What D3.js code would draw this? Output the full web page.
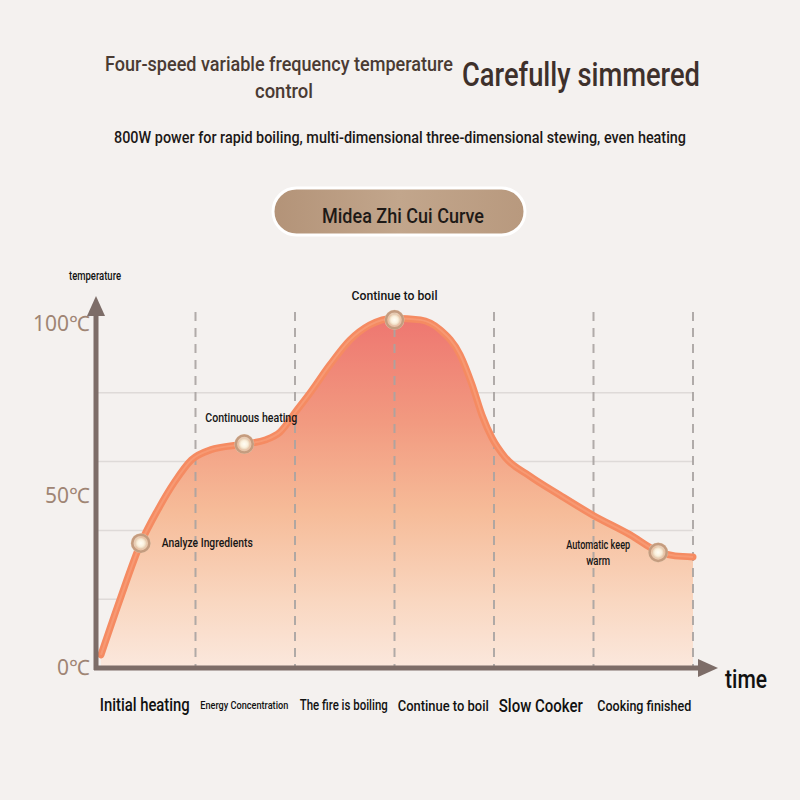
<!DOCTYPE html>
<html><head><meta charset="utf-8">
<script src="https://cdn.jsdelivr.net/npm/d3@7"></script>
<style>
html,body{margin:0;padding:0;background:#f4f1ef;}
svg{display:block;}
.cond{font-family:"Roboto","Noto Sans",sans-serif;font-weight:500;}
</style></head>
<body><svg id="c" width="800" height="800"></svg>
<script>
// ---- data ----
const stageLabels = ["Initial heating","Energy Concentration","The fire is boiling","Continue to boil","Slow Cooker","Cooking finished"];
const stageSizes = [18,11,14,15,19,15];
const stageWidths = [90,88,88,91,84,94];
const stageShift = [-1,-1,-1,-1,-3,1];
const yTicks = [0,50,100];
const gridTemps = [20,40,60,80];
const curveTime = [0.05,0.24,0.45,0.62,0.79,0.96,1.15,1.49,1.70,1.85,2.02,2.15,2.35,2.55,2.75,3.0,3.26,3.46,3.66,3.78,3.88,3.98,4.11,4.36,4.66,4.99,5.37,5.64,5.82,6.0];
const curveTemp = [3.8,19.8,36.3,45.9,54.1,60.5,63.4,65.1,66.3,68.6,75,79.9,88.1,95.3,99.7,101.7,101.2,98.3,91,82.3,73.5,66.9,61.3,55.8,50.3,44.5,38.7,34,32.6,32.3];
const markerTime = [0.45,1.49,3.0,5.65];
const markerTemp = [36.3,65.1,101.2,33.6];
const markerLabels = [["Analyze Ingredients"],["Continuous heating"],["Continue to boil"],["Automatic keep","warm"]];
const markerLabelWidths = [[91],[92],[86],[64,24]];

const svg = d3.select("#c");
const x = d3.scaleLinear().domain([0,6]).range([96,693]);
const y = d3.scaleLinear().domain([0,100]).range([668,324]);

const defs = svg.append("defs");
const ag = defs.append("linearGradient").attr("id","areaG").attr("gradientUnits","userSpaceOnUse")
  .attr("x1",0).attr("x2",0).attr("y1",y(102)).attr("y2",y(0));
[[0,"#ee7670"],[0.3,"#f29a80"],[0.55,"#f6bb98"],[0.8,"#f9d6bf"],[1,"#fbe8dd"]]
  .forEach(s=>ag.append("stop").attr("offset",s[0]).attr("stop-color",s[1]));
const pg = defs.append("linearGradient").attr("id","pillG").attr("x1",0).attr("x2",1).attr("y1",0).attr("y2",0);
[[0,"#b39378"],[0.5,"#c2a68c"],[1,"#b8997e"]].forEach(s=>pg.append("stop").attr("offset",s[0]).attr("stop-color",s[1]));
const mg = defs.append("radialGradient").attr("id","mkG");
[[0,"#fffdf5"],[0.6,"#fbf1de"],[1,"#e9d3b8"]].forEach(s=>mg.append("stop").attr("offset",s[0]).attr("stop-color",s[1]));

function ctext(g, s, px, py, size, width, color, anchor, weight){
  const t = g.append("text").attr("class","cond").attr("x",px).attr("y",py)
    .attr("text-anchor",anchor||"middle").attr("font-size",size).attr("fill",color||"#111");
  if(weight) t.attr("font-weight",weight);
  if(width) t.attr("textLength",width).attr("lengthAdjust","spacingAndGlyphs");
  t.text(s);
  return t;
}

// ---- titles ----
ctext(svg,"Four-speed variable frequency temperature",279,71,21,348,"#4a3b33");
ctext(svg,"control",284,98,21,58,"#4a3b33");
ctext(svg,"Carefully simmered",581,86,34,238,"#3e302b");
ctext(svg,"800W power for rapid boiling, multi-dimensional three-dimensional stewing, even heating",400,143,16,572,"#1c1816",null,600);

// pill
svg.append("rect").attr("x",273).attr("y",188).attr("width",252).attr("height",47).attr("rx",23.5)
  .attr("fill","url(#pillG)").attr("stroke","#ffffff").attr("stroke-width",3);
ctext(svg,"Midea Zhi Cui Curve",403,223,21,162,"#1e1a17");

// ---- grid ----
svg.append("g").selectAll("line").data(gridTemps).join("line")
  .attr("x1",x(0)).attr("x2",x(6)).attr("y1",d=>y(d)).attr("y2",d=>y(d))
  .attr("stroke","#dedad8").attr("stroke-width",1.5);

// ---- area & curve ----
const pts = curveTime.map((t,i)=>[t,curveTemp[i]]);
const area = d3.area().x(d=>x(d[0])).y0(y(0)).y1(d=>y(d[1])).curve(d3.curveMonotoneX);
const line = d3.line().x(d=>x(d[0])).y(d=>y(d[1])).curve(d3.curveMonotoneX);
svg.append("path").attr("d",area(pts)).attr("fill","url(#areaG)");

// dashed stage lines
svg.append("g").selectAll("line").data(d3.range(1,7)).join("line")
  .attr("x1",d=>x(d)).attr("x2",d=>x(d)).attr("y1",312).attr("y2",y(0))
  .attr("stroke","#a9a4a2").attr("stroke-width",2).attr("stroke-dasharray","9,7").attr("opacity",0.9);

svg.append("path").attr("d",line(pts)).attr("fill","none").attr("stroke","#f58b62")
  .attr("stroke-width",7).attr("stroke-linecap","round").attr("stroke-linejoin","round");
svg.append("path").attr("d",line(pts)).attr("fill","none").attr("stroke","#f9a37f")
  .attr("stroke-width",2).attr("opacity",0.6);

// ---- axes ----
const axc = "#7d6d68";
svg.append("line").attr("x1",x(0)).attr("x2",x(0)).attr("y1",y(0)+2).attr("y2",310).attr("stroke",axc).attr("stroke-width",5);
svg.append("path").attr("d",`M${x(0)},296 L${x(0)-9},316 L${x(0)+9},316 Z`).attr("fill",axc);
svg.append("line").attr("x1",x(0)-2).attr("x2",703).attr("y1",y(0)).attr("y2",y(0)).attr("stroke",axc).attr("stroke-width",5);
svg.append("path").attr("d",`M718,${y(0)} L698,${y(0)-9} L698,${y(0)+9} Z`).attr("fill",axc);

svg.append("g").selectAll("text").data(yTicks).join("text")
  .attr("x",90).attr("y",d=>y(d)+7).attr("text-anchor","end")
  .attr("font-family","'Noto Sans',sans-serif").attr("font-weight",400).attr("font-size",21).attr("fill","#9f8574")
  .text(d=>d+"℃");

ctext(svg,"temperature",95,280,12,52,"#111");
ctext(svg,"time",746,688,25,42,"#111");

stageLabels.forEach((s,i)=>{
  ctext(svg,s,x(i+0.5)+stageShift[i],712-(20-stageSizes[i])*0.3,stageSizes[i],stageWidths[i],"#111");
});

// ---- markers ----
const mk = svg.append("g").selectAll("g").data(markerTime).join("g")
  .attr("transform",(d,i)=>`translate(${x(d)},${y(markerTemp[i])})`);
mk.append("circle").attr("r",10).attr("fill","#e7c9ae").attr("opacity",0.9);
mk.append("circle").attr("r",8.5).attr("fill","none").attr("stroke","#c49c7f").attr("stroke-width",2.5);
mk.append("circle").attr("r",5.5).attr("fill","url(#mkG)");

// annotation labels
const ann = [
  {i:0, dx:21, dy:4, anchor:"start"},
  {i:1, dx:7, dy:-22, anchor:"middle"},
  {i:2, dx:0, dy:-20, anchor:"middle"},
  {i:3, dx:-60, dy:-3, anchor:"middle"}
];
ann.forEach(a=>{
  markerLabels[a.i].forEach((s,k)=>{
    ctext(svg,s,x(markerTime[a.i])+a.dx,y(markerTemp[a.i])+a.dy+k*16,12,markerLabelWidths[a.i][k],"#151515",a.anchor);
  });
});
</script></body></html>
